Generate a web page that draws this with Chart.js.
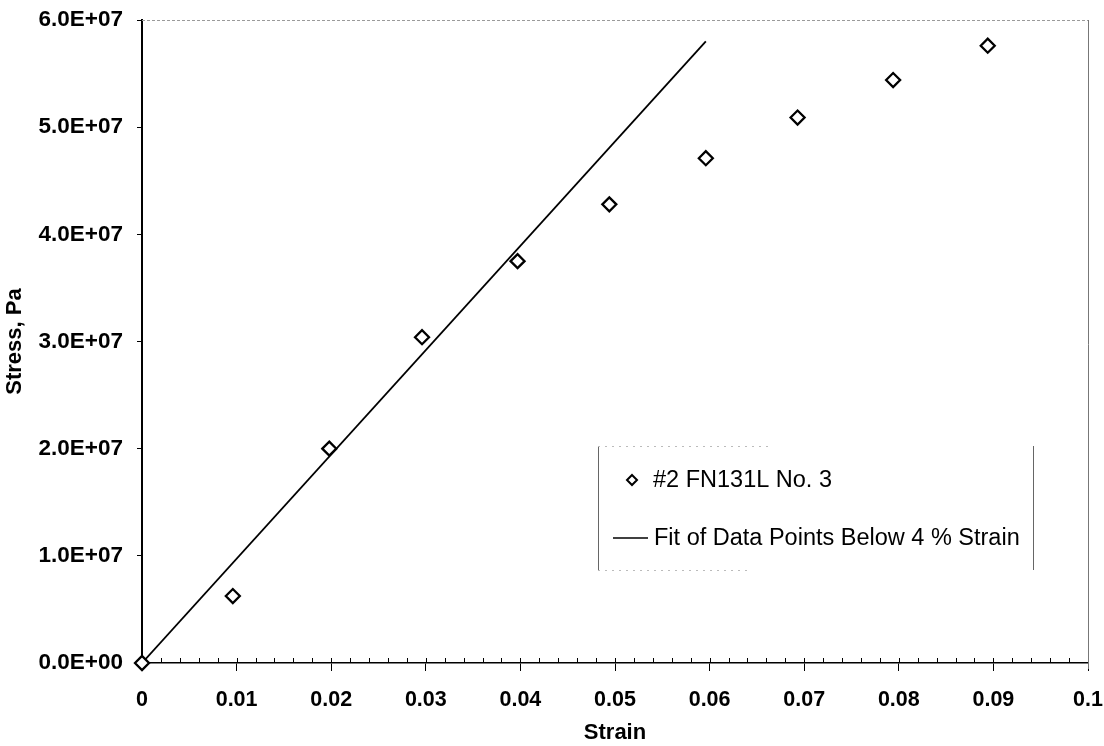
<!DOCTYPE html>
<html>
<head>
<meta charset="utf-8">
<script src="https://cdn.jsdelivr.net/npm/chart.js@4.4.1/dist/chart.umd.min.js"></script>
<style>
  html, body { margin: 0; padding: 0; background: #fff; }
  #wrap { width: 1104px; height: 746px; }
</style>
</head>
<body>
<div id="wrap"><canvas id="chart" width="1104" height="746"></canvas></div>
<script>
// measured points (strain, stress in Pa)
const strain = [0, 0.0096, 0.0198, 0.0296, 0.0397, 0.0494, 0.0596, 0.0693, 0.0794, 0.0894];
const stress = [0, 6.25e6, 2.0e7, 3.04e7, 3.75e7, 4.28e7, 4.71e7, 5.09e7, 5.44e7, 5.76e7];

// linear fit line, two end points
const fitStrain = [0, 0.0596];
const fitStress = [0, 5.8e7];

const xTickLabels = ['0', '0.01', '0.02', '0.03', '0.04', '0.05', '0.06', '0.07', '0.08', '0.09', '0.1'];
const yTickLabels = ['0.0E+00', '1.0E+07', '2.0E+07', '3.0E+07', '4.0E+07', '5.0E+07', '6.0E+07'];

const seriesLabels = ['#2 FN131L No. 3', 'Fit of Data Points Below 4 % Strain'];

const FONT = '"Liberation Sans", Arial, sans-serif';

// frame, minor ticks and the boxed legend
const decorPlugin = {
    id: 'decor',
    afterDraw(chart) {
        const ctx = chart.ctx;
        const a = chart.chartArea;
        const xs = chart.scales.x;
        ctx.save();

        // faint top / right frame
        ctx.strokeStyle = '#9a9a9a';
        ctx.lineWidth = 1;
        ctx.setLineDash([3, 2]);
        ctx.beginPath();
        ctx.moveTo(a.left, a.top + 0.5);
        ctx.lineTo(a.right, a.top + 0.5);
        ctx.stroke();
        ctx.setLineDash([]);
        ctx.strokeStyle = '#777';
        ctx.beginPath();
        ctx.moveTo(a.right + 0.5, a.top);
        ctx.lineTo(a.right + 0.5, a.bottom + 6);
        ctx.stroke();

        // inward ticks on x axis every 0.002
        ctx.strokeStyle = '#000';
        ctx.lineWidth = 1;
        for (let k = 1; k < 50; k++) {
            const px = Math.round(xs.getPixelForValue(k * 0.002)) + 0.5;
            ctx.beginPath();
            ctx.moveTo(px, a.bottom);
            ctx.lineTo(px, a.bottom - 5);
            ctx.stroke();
        }

        // legend box
        const bx = 598, by = 446, bw = 435, bh = 124;
        ctx.strokeStyle = '#666';
        ctx.beginPath();
        ctx.moveTo(bx + 0.5, by);
        ctx.lineTo(bx + 0.5, by + bh);
        ctx.moveTo(bx + bw + 0.5, by);
        ctx.lineTo(bx + bw + 0.5, by + bh);
        ctx.stroke();
        ctx.strokeStyle = '#bbb';
        ctx.setLineDash([2, 5]);
        ctx.beginPath();
        ctx.moveTo(bx, by + 0.5);
        ctx.lineTo(bx + 170, by + 0.5);
        ctx.moveTo(bx, by + bh + 0.5);
        ctx.lineTo(bx + 150, by + bh + 0.5);
        ctx.stroke();
        ctx.setLineDash([]);

        const ds = chart.data.datasets;
        ctx.font = '23.5px ' + FONT;
        ctx.fillStyle = '#000';
        ctx.textBaseline = 'middle';
        ctx.textAlign = 'left';

        // entry 1: diamond marker
        const y1 = 480;
        ctx.lineWidth = 2;
        ctx.strokeStyle = '#000';
        ctx.fillStyle = '#fff';
        ctx.beginPath();
        ctx.moveTo(632, y1 - 5);
        ctx.lineTo(637, y1);
        ctx.lineTo(632, y1 + 5);
        ctx.lineTo(627, y1);
        ctx.closePath();
        ctx.fill();
        ctx.stroke();
        ctx.fillStyle = '#000';
        ctx.fillText(ds[0].label, 653, y1 + 1);

        // entry 2: line
        const y2 = 538;
        ctx.lineWidth = 1.5;
        ctx.beginPath();
        ctx.moveTo(613, y2);
        ctx.lineTo(648, y2);
        ctx.stroke();
        ctx.fillText(ds[1].label, 654, y2 + 1);

        ctx.restore();
    }
};

const ctx = document.getElementById('chart').getContext('2d');
new Chart(ctx, {
    type: 'scatter',
    data: {
        datasets: [{
            label: seriesLabels[0],
            data: strain.map((v, i) => ({ x: v, y: stress[i] })),
            showLine: false,
            clip: false,
            pointStyle: 'rectRot',
            pointRadius: 7,
            pointBorderWidth: 2.3,
            pointBackgroundColor: '#fff',
            pointBorderColor: '#000'
        }, {
            label: seriesLabels[1],
            data: fitStrain.map((v, i) => ({ x: v, y: fitStress[i] })),
            showLine: true,
            borderColor: '#000',
            borderWidth: 1.8,
            pointRadius: 0
        }]
    },
    options: {
        responsive: false,
        animation: false,
        layout: { padding: { top: 20, right: 16, left: 0, bottom: 0 } },
        plugins: {
            legend: { display: false },
            tooltip: { enabled: false }
        },
        scales: {
            x: {
                type: 'linear',
                min: 0,
                max: 0.1,
                afterFit: s => {
                    s.height = 83;
                    s.paddingLeft = 0;
                    s.paddingRight = 0;
                },
                ticks: {
                    stepSize: 0.01,
                    color: '#000',
                    padding: 16,
                    maxRotation: 0,
                    autoSkip: false,
                    font: { family: FONT, size: 21.5, weight: 'bold' },
                    callback: (v, i) => xTickLabels[i]
                },
                grid: {
                    drawOnChartArea: false,
                    color: '#000',
                    tickLength: 8
                },
                border: { color: '#000', width: 1.5 },
                title: {
                    display: true,
                    text: 'Strain',
                    color: '#000',
                    padding: 0,
                    font: { family: FONT, size: 22, weight: 'bold' }
                }
            },
            y: {
                min: 0,
                max: 6e7,
                afterFit: s => {
                    s.width = 142;
                    s.paddingTop = 0;
                    s.paddingBottom = 0;
                },
                ticks: {
                    stepSize: 1e7,
                    color: '#000',
                    padding: 14,
                    font: { family: FONT, size: 22.5, weight: 'bold' },
                    callback: (v, i) => yTickLabels[i]
                },
                grid: {
                    drawOnChartArea: false,
                    color: '#000',
                    tickLength: 5
                },
                border: { color: '#000', width: 2 },
                title: {
                    display: true,
                    text: 'Stress, Pa',
                    color: '#000',
                    padding: { top: 2, bottom: 0 },
                    font: { family: FONT, size: 22, weight: 'bold' }
                }
            }
        }
    },
    plugins: [decorPlugin]
});
</script>
</body>
</html>
